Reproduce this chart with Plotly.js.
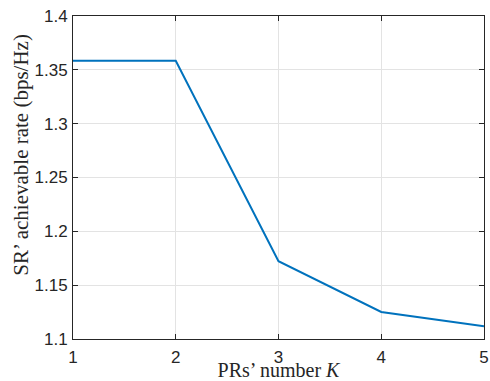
<!DOCTYPE html>
<html>
<head>
<meta charset="utf-8">
<script src="https://cdn.plot.ly/plotly-3.0.1.min.js"></script>
<style>html,body{margin:0;padding:0;background:#fff;}#chart{width:490px;height:381px;}</style>
</head>
<body>
<div id="chart"></div>
<script>
const K = [1, 2, 3, 4, 5];
const rate = [1.3585, 1.3585, 1.1722, 1.1251, 1.1118];
const xTicks = [1, 2, 3, 4, 5];
const yTicks = [1.1, 1.15, 1.2, 1.25, 1.3, 1.35, 1.4];
const yTickText = ['1.1', '1.15', '1.2', '1.25', '1.3', '1.35', '1.4'];
const xTitle = 'PRs’ number <i>K</i>';
const yTitle = 'SR’ achievable rate (bps/Hz)';

const serif = 'Liberation Serif, Times New Roman, serif';
const axisCommon = {
  showline: true, mirror: 'ticks', linecolor: '#262626', linewidth: 1,
  ticks: 'inside', ticklen: 5, tickcolor: '#262626', tickwidth: 1,
  showgrid: true, gridcolor: '#e3e3e3', gridwidth: 1, zeroline: false,
  tickfont: {family: 'Liberation Sans, Arial, sans-serif', size: 17, color: '#262626'}
};

Plotly.newPlot('chart', [{
  x: K, y: rate, type: 'scatter', mode: 'lines',
  line: {color: '#0072BD', width: 2}, showlegend: false
}], {
  width: 490, height: 381,
  margin: {l: 73, r: 6, t: 16, b: 42},
  paper_bgcolor: '#fff', plot_bgcolor: '#fff',
  xaxis: Object.assign({}, axisCommon, {
    range: [1, 5], tickvals: xTicks, ticklabelstandoff: 3,
    title: {text: xTitle, standoff: 0,
      font: {family: serif, size: 20, color: '#262626'}}
  }),
  yaxis: Object.assign({}, axisCommon, {
    range: [1.1, 1.4], tickvals: yTicks, ticktext: yTickText, ticklabelstandoff: 1
  }),
  annotations: [{
    text: yTitle, textangle: -90, showarrow: false,
    xref: 'paper', yref: 'paper', x: -0.127, y: 0.57,
    xanchor: 'center', yanchor: 'middle',
    font: {family: serif, size: 21, color: '#262626'}
  }]
}, {displayModeBar: false, staticPlot: true});
</script>
</body>
</html>
